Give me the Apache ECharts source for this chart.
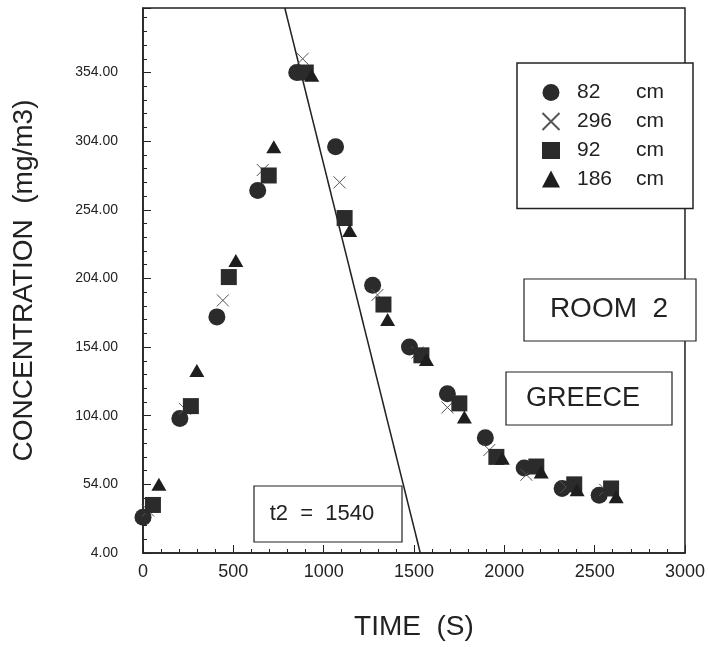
<!DOCTYPE html>
<html>
<head>
<meta charset="utf-8">
<script src="https://cdn.jsdelivr.net/npm/echarts@6/dist/echarts.min.js"></script>
<style>
  html, body { margin: 0; padding: 0; background: #fff; }
  #main { width: 708px; height: 647px; }
</style>
</head>
<body>
<div id="main"></div>
<script>
// readings: [time (s), concentration (mg/m3)]
const circle82 = [[0, 30], [204, 102], [409, 176], [635, 268], [851, 354], [1066, 300], [1271, 199],
    [1475, 154], [1685, 120], [1895, 88], [2110, 66], [2320, 51], [2525, 46]];
const cross296 = [[28, 35], [232, 109], [442, 188], [663, 283], [884, 364], [1088, 274], [1298, 192],
    [1519, 150], [1685, 110], [1917, 79], [2122, 61], [2343, 52], [2558, 50]];
const square92 = [[55, 39], [265, 111], [475, 205], [696, 279], [901, 354], [1116, 248], [1331, 185],
    [1541, 148], [1751, 113], [1956, 74], [2177, 67], [2387, 54], [2591, 51]];
const tri186 = [[88, 54], [298, 137], [514, 217], [724, 300], [934, 352], [1144, 239], [1354, 174],
    [1569, 145], [1779, 103], [1989, 73], [2204, 63], [2403, 50], [2619, 45]];
// decay line through t2
const fitLine = [[785, 401], [1535, 4]];

const seriesNames = ['82 cm', '296 cm', '92 cm', '186 cm'];
const xTicks = { min: 0, max: 3000, step: 500 };
const yTicks = { min: 4, max: 401, step: 50 };

const FONT = 'Liberation Sans, Arial, sans-serif';
const INK = '#222';

let chart = echarts.init(document.getElementById('main'));

let opt = {
    backgroundColor: '#fff',
    animation: false,
    textStyle: { fontFamily: FONT, color: INK },
    grid: {
        left: 143, right: 21, top: 8, bottom: 94,
        show: true, borderColor: INK, borderWidth: 1.5, backgroundColor: '#fff'
    },
    legend: {
        orient: 'vertical',
        left: 517, top: 63,
        padding: [19, 29, 19, 23],
        itemGap: 7.5,
        itemWidth: 18, itemHeight: 17,
        backgroundColor: '#fff',
        borderColor: INK, borderWidth: 1.5,
        data: seriesNames,
        formatter: function (name) {
            let p = name.split(' ');
            return '{n|' + p[0] + '}{u|' + p[1] + '}';
        },
        textStyle: {
            rich: {
                n: { fontSize: 21, width: 59, padding: [0, 0, 0, 12], fontFamily: FONT, color: INK },
                u: { fontSize: 21, fontFamily: FONT, color: INK }
            }
        }
    },
    xAxis: {
        type: 'value',
        min: xTicks.min, max: xTicks.max, interval: xTicks.step,
        name: 'TIME  (S)',
        nameLocation: 'middle',
        nameGap: 60,
        nameTextStyle: { fontSize: 28, color: INK, fontFamily: FONT },
        axisLine: { show: true, lineStyle: { color: INK, width: 1.5 } },
        axisTick: { inside: true, length: 8, lineStyle: { color: INK } },
        minorTick: { show: true, splitNumber: 5, length: 4, lineStyle: { color: INK } },
        axisLabel: { fontSize: 18, color: INK, margin: 10, fontFamily: FONT, formatter: v => String(v) },
        splitLine: { show: false }
    },
    yAxis: {
        type: 'value',
        min: yTicks.min, max: yTicks.max, interval: yTicks.step,
        name: 'CONCENTRATION  (mg/m3)',
        nameLocation: 'middle',
        nameRotate: 90,
        nameGap: 105,
        nameTextStyle: { fontSize: 28, color: INK, fontFamily: FONT },
        axisLine: { show: true, lineStyle: { color: INK, width: 1.5 } },
        axisTick: { inside: true, length: 8, lineStyle: { color: INK } },
        minorTick: { show: true, splitNumber: 5, length: 4, lineStyle: { color: INK } },
        axisLabel: {
            fontSize: 14, color: INK, margin: 25, fontFamily: FONT,
            showMaxLabel: false,
            formatter: v => v.toFixed(2)
        },
        splitLine: { show: false }
    },
    graphic: [
        {
            type: 'group', z: 100,
            children: [
                { type: 'rect', shape: { x: 254, y: 486, width: 148, height: 56 },
                  style: { fill: '#fff', stroke: INK, lineWidth: 1.2 } },
                { type: 'text', x: 322, y: 514,
                  style: { text: 't2  =  1540', font: '22px ' + FONT, fill: INK, align: 'center', verticalAlign: 'middle' } },
                { type: 'rect', shape: { x: 524, y: 279, width: 172, height: 62 },
                  style: { fill: '#fff', stroke: INK, lineWidth: 1.2 } },
                { type: 'text', x: 609, y: 309,
                  style: { text: 'ROOM  2', font: '28px ' + FONT, fill: INK, align: 'center', verticalAlign: 'middle' } },
                { type: 'rect', shape: { x: 506, y: 372, width: 166, height: 53 },
                  style: { fill: '#fff', stroke: INK, lineWidth: 1.2 } },
                { type: 'text', x: 583, y: 399,
                  style: { text: 'GREECE', font: '27px ' + FONT, fill: INK, align: 'center', verticalAlign: 'middle' } }
            ]
        }
    ],
    series: [
        {
            name: 'fit', type: 'line', data: fitLine, symbol: 'none', silent: true,
            lineStyle: { color: INK, width: 1.5 }, z: 1
        },
        {
            name: seriesNames[0], type: 'scatter', data: circle82,
            symbol: 'circle', symbolSize: 17,
            itemStyle: { color: '#2b2b2b', opacity: 1 }, z: 3
        },
        {
            name: seriesNames[1], type: 'scatter', data: cross296,
            symbol: 'path://M0,0L10,10M10,0L0,10', symbolSize: 12,
            itemStyle: { color: 'none', borderColor: '#555', borderWidth: 1, opacity: 1 }, z: 3
        },
        {
            name: seriesNames[2], type: 'scatter', data: square92,
            symbol: 'rect', symbolSize: 16,
            itemStyle: { color: '#2b2b2b', opacity: 1 }, z: 3
        },
        {
            name: seriesNames[3], type: 'scatter', data: tri186,
            symbol: 'triangle', symbolSize: [15, 13],
            itemStyle: { color: '#1e1e1e', opacity: 1 }, z: 3
        }
    ]
};

chart.setOption(opt);
</script>
</body>
</html>
